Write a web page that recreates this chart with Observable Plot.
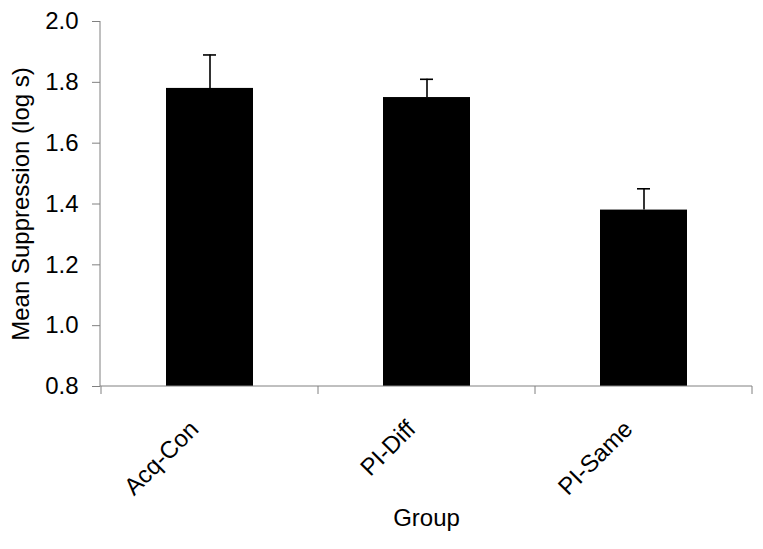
<!DOCTYPE html>
<html><head><meta charset="utf-8">
<script src="https://cdn.jsdelivr.net/npm/d3@7"></script>
<script src="https://cdn.jsdelivr.net/npm/@observablehq/plot@0.6"></script>
<style>body{margin:0;background:#fff;} svg{display:block;}</style>
</head><body><div id="chart"></div>
<script>
const groups = ["Acq-Con", "PI-Diff", "PI-Same"];
const means = [1.78, 1.75, 1.38];
const upper = [1.89, 1.81, 1.45];
const yTicks = [0.8, 1.0, 1.2, 1.4, 1.6, 1.8, 2.0];

const data = groups.map((g, i) => ({group: g, mean: means[i], upper: upper[i]}));
const gray = "#808080";
const font = "Liberation Sans, Arial, sans-serif";

const axisLines = (index, scales, values, dim) => {
  const x = scales.scales.x;
  const step = x.step, bw = x.bandwidth;
  const yb = dim.height - dim.marginBottom;
  const g = d3.create("svg:g").attr("stroke", gray).attr("stroke-width", 1);
  const xs = groups.map(c => scales.x(c) - (step - bw) / 2);
  xs.push(scales.x(groups[groups.length - 1]) + bw + (step - bw) / 2);
  for (const xv of xs) {
    g.append("line").attr("x1", xv).attr("x2", xv).attr("y1", yb).attr("y2", yb + 8);
  }
  g.append("line").attr("x1", dim.marginLeft).attr("x2", dim.marginLeft)
    .attr("y1", dim.marginTop).attr("y2", yb);
  g.append("line").attr("x1", dim.marginLeft).attr("x2", dim.width - dim.marginRight)
    .attr("y1", yb).attr("y2", yb);
  return g.node();
};

const chart = Plot.plot({
  width: 763,
  height: 549,
  marginLeft: 100,
  marginRight: 11,
  marginTop: 21,
  marginBottom: 163,
  style: {fontFamily: font, fontSize: "24px", color: "#000", background: "#fff"},
  x: {domain: groups, paddingInner: 0.6, paddingOuter: 0.3, axis: null},
  y: {domain: [0.8, 2.0]},
  marks: [
    Plot.barY(data, {x: "group", y1: 0.8, y2: "mean", fill: "#000"}),
    Plot.ruleX(data, {x: "group", y1: "mean", y2: "upper", stroke: "#000", strokeWidth: 1.6}),
    Plot.tickY(data, {x: "group", y: "upper", stroke: "#000", strokeWidth: 1.6, insetLeft: 37, insetRight: 37}),
    Plot.axisY({ticks: yTicks, tickFormat: d => d.toFixed(1), tickSize: 8, tickPadding: 14, stroke: gray, fontSize: 24, label: null, color: "#000"}),
    Plot.text(data, {x: "group", frameAnchor: "bottom", dy: 44, dx: -10, rotate: -45, textAnchor: "end", text: "group", fontSize: 24, fill: "#000"}),
    Plot.text(["Mean Suppression (log s)"], {frameAnchor: "left", dx: -79, rotate: -90, textAnchor: "middle", fontSize: 24, fill: "#000"}),
    Plot.text(["Group"], {frameAnchor: "bottom", dy: 139, fontSize: 24, fill: "#000"}),
    axisLines
  ]
});
document.getElementById("chart").appendChild(chart);
</script>
</body></html>
